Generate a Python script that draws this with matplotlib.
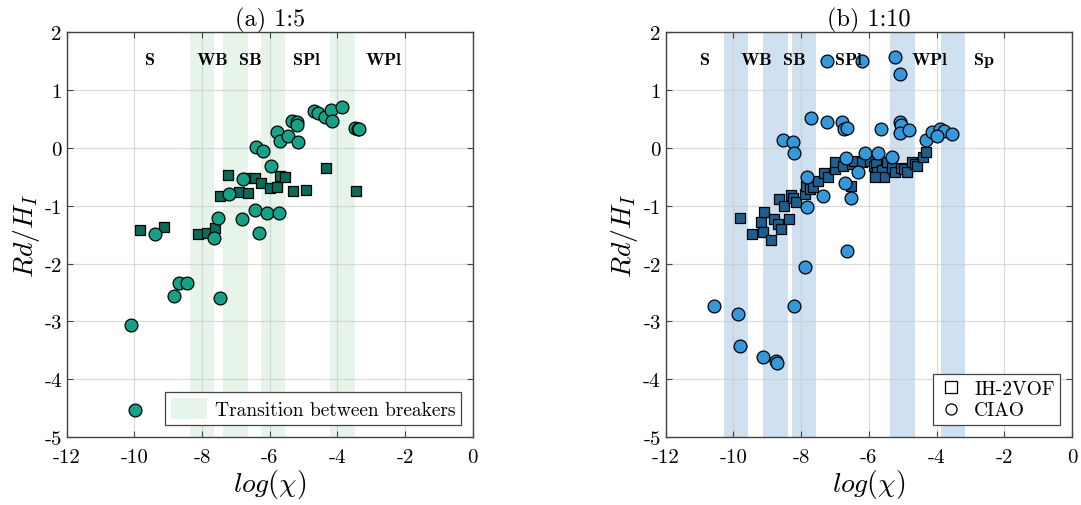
import numpy as np
import matplotlib.pyplot as plt
from matplotlib.patches import Patch
from matplotlib.lines import Line2D

plt.rcParams['font.family'] = 'cmr10'
plt.rcParams['mathtext.fontset'] = 'cm'
plt.rcParams['axes.unicode_minus'] = False

# ---- datos (a) 1:5 ----
ih_x_a = [-9.83, -9.11, -8.12, -7.86, -7.61, -7.46, -7.24, -6.92, -6.63, -6.67,
          -6.43, -6.25, -5.98, -5.77, -5.71, -5.54, -5.31, -4.92, -4.35, -3.46]
ih_y_a = [-1.42, -1.36, -1.49, -1.48, -1.39, -0.84, -0.47, -0.77, -0.78, -0.52,
          -0.52, -0.61, -0.69, -0.68, -0.49, -0.51, -0.74, -0.72, -0.34, -0.75]

ciao_x_a = [-10.11, -9.98, -9.39, -8.82, -8.68, -8.43, -7.64, -7.54, -7.46, -7.19,
            -6.81, -6.79, -6.44, -6.33, -6.08, -5.74, -5.96, -6.41, -6.20, -5.79,
            -5.71, -5.46, -5.33, -5.18, -5.18, -5.16, -4.68, -4.57, -4.36, -4.18,
            -4.16, -3.85, -3.48, -3.40, -3.36]
ciao_y_a = [-3.06, -4.53, -1.49, -2.56, -2.33, -2.33, -1.55, -1.22, -2.59, -0.79,
            -1.23, -0.54, -1.07, -1.47, -1.13, -1.13, -0.31, 0.01, -0.05, 0.27,
            0.12, 0.20, 0.47, 0.44, 0.39, 0.10, 0.64, 0.60, 0.54, 0.66,
            0.47, 0.70, 0.34, 0.33, 0.32]

# ---- datos (b) 1:10 ----
ih_x_b = [-9.80, -9.46, -9.18, -9.10, -9.11, -8.89, -8.79, -8.67, -8.59, -8.35,
          -8.64, -8.50, -8.30, -8.24, -8.15, -7.88, -7.85, -7.75, -7.64, -7.51,
          -7.32, -7.20, -7.00, -7.00, -6.75, -6.50, -6.45, -6.53, -6.20, -5.95,
          -5.85, -5.78, -5.76, -5.61, -5.56, -5.81, -5.47, -5.32, -5.22, -5.04,
          -4.95, -4.88, -4.73, -4.63, -4.58, -4.39, -4.31]
ih_y_b = [-1.21, -1.49, -1.28, -1.10, -1.46, -1.59, -1.23, -1.32, -1.40, -1.23,
          -0.88, -1.00, -0.81, -0.87, -0.93, -0.80, -0.65, -0.71, -0.68, -0.58,
          -0.44, -0.51, -0.37, -0.25, -0.31, -0.28, -0.22, -0.65, -0.25, -0.22,
          -0.31, -0.28, -0.42, -0.39, -0.51, -0.51, -0.25, -0.35, -0.42, -0.35,
          -0.36, -0.42, -0.25, -0.28, -0.31, -0.16, -0.07]

ciao_x_b = [-10.56, -9.87, -9.81, -9.13, -8.75, -8.72, -8.20, -7.88, -7.83, -6.65,
            -7.23, -6.19, -5.22, -5.07, -7.71, -7.24, -6.78, -6.73, -6.65, -5.64,
            -5.07, -5.05, -5.09, -4.82, -4.32, -4.14, -3.89, -3.79, -4.00, -3.55,
            -8.53, -8.24, -8.22, -7.83, -7.36, -6.67, -6.70, -6.52, -6.31, -6.10,
            -5.74, -5.31]
ciao_y_b = [-2.74, -2.87, -3.42, -3.62, -3.69, -3.72, -2.73, -2.06, -1.02, -1.79,
            1.51, 1.50, 1.58, 1.28, 0.51, 0.44, 0.44, 0.33, 0.34, 0.33,
            0.45, 0.40, 0.26, 0.31, 0.13, 0.27, 0.33, 0.30, 0.21, 0.24,
            0.14, 0.10, -0.09, -0.50, -0.84, -0.18, -0.61, -0.86, -0.42, -0.09,
            -0.09, -0.15]

# zonas de transicion entre rompientes
bandas_a = [(-8.35, -7.64), (-7.37, -6.65), (-6.25, -5.54), (-4.21, -3.48)]
bandas_b = [(-10.27, -9.56), (-9.11, -8.39), (-8.26, -7.55), (-5.37, -4.65), (-3.86, -3.15)]

etiquetas_a = [('S', -9.56), ('WB', -7.71), ('SB', -6.6), ('SPl', -4.9), ('WPl', -2.61)]
etiquetas_b = [('S', -10.86), ('WB', -9.31), ('SB', -8.2), ('SPl', -6.6), ('WPl', -4.19), ('Sp', -2.61)]

xticks = [-12, -10, -8, -6, -4, -2, 0]
yticks = [-5, -4, -3, -2, -1, 0, 1, 2]


def preparar_ejes(ax, titulo, bandas, color_banda, etiquetas):
    for x0, x1 in bandas:
        ax.axvspan(x0, x1, color=color_banda, lw=0, zorder=0)
    ax.set_xlim(-12, 0)
    ax.set_ylim(-5, 2)
    ax.set_xticks(xticks)
    ax.set_xticklabels([str(t) for t in xticks])
    ax.set_yticks(yticks)
    ax.set_yticklabels([str(t) for t in yticks])
    ax.tick_params(direction='in', top=True, right=True, labelsize=15,
                   length=4, width=0.8, color='#444444')
    ax.tick_params(axis='x', pad=8)
    ax.grid(True, color='#cccccc', lw=0.9, alpha=0.7, zorder=0.5)
    ax.set_axisbelow(True)
    for s in ax.spines.values():
        s.set_color('#444444')
        s.set_linewidth(1.0)
    ax.set_title(titulo, fontsize=17.5, pad=5)
    ax.set_xlabel(r'$log(\chi)$', fontsize=20, labelpad=1)
    ax.set_ylabel(r'$Rd/H_I$', fontsize=20, labelpad=2)
    for txt, xp in etiquetas:
        ax.text(xp, 1.53, r'$\mathbf{%s}$' % txt, fontsize=13,
                ha='center', va='center', zorder=5)


fig = plt.figure(figsize=(10.81, 5.06), dpi=100)
ax1 = fig.add_axes([0.0617, 0.1344, 0.3756, 0.7998])
ax2 = fig.add_axes([0.6157, 0.1344, 0.3760, 0.7998])

# (a) 1:5
verde_banda = '#e6f4ea'
preparar_ejes(ax1, '(a) 1:5', bandas_a, verde_banda, etiquetas_a)
ax1.scatter(ih_x_a, ih_y_a, s=48, marker='s', c='#0c6b58',
            edgecolors='black', linewidths=0.9, zorder=3)
ax1.scatter(ciao_x_a, ciao_y_a, s=85, marker='o', c='#17a287',
            edgecolors='black', linewidths=0.9, zorder=4)
leg1 = ax1.legend(handles=[Patch(facecolor=verde_banda, edgecolor='none',
                                 label='Transition between breakers')],
                  loc='lower right', fontsize=14, fancybox=False, framealpha=1,
                  edgecolor='#444444', handlelength=1.85, handleheight=1.3,
                  borderpad=0.3, borderaxespad=0.6, handletextpad=0.4)
leg1.get_frame().set_linewidth(0.9)

# (b) 1:10
azul_banda = '#cfe0f0'
preparar_ejes(ax2, '(b) 1:10', bandas_b, azul_banda, etiquetas_b)
ax2.scatter(ih_x_b, ih_y_b, s=48, marker='s', c='#1f5f8d',
            edgecolors='black', linewidths=0.9, zorder=3)
ax2.scatter(ciao_x_b, ciao_y_b, s=85, marker='o', c='#3498db',
            edgecolors='black', linewidths=0.9, zorder=4)
manejadores = [
    Line2D([], [], ls='none', marker='s', ms=8, mfc='white', mec='black', mew=0.9, label='IH-2VOF'),
    Line2D([], [], ls='none', marker='o', ms=8, mfc='white', mec='black', mew=0.9, label='CIAO'),
]
leg2 = ax2.legend(handles=manejadores, loc='lower right', fontsize=14,
                  fancybox=False, framealpha=1, edgecolor='#444444',
                  handlelength=1.2, borderpad=0.3, borderaxespad=0.6,
                  labelspacing=0.2, handletextpad=0.6)
leg2.get_frame().set_linewidth(0.9)

fig.savefig('out.png', dpi=100)
